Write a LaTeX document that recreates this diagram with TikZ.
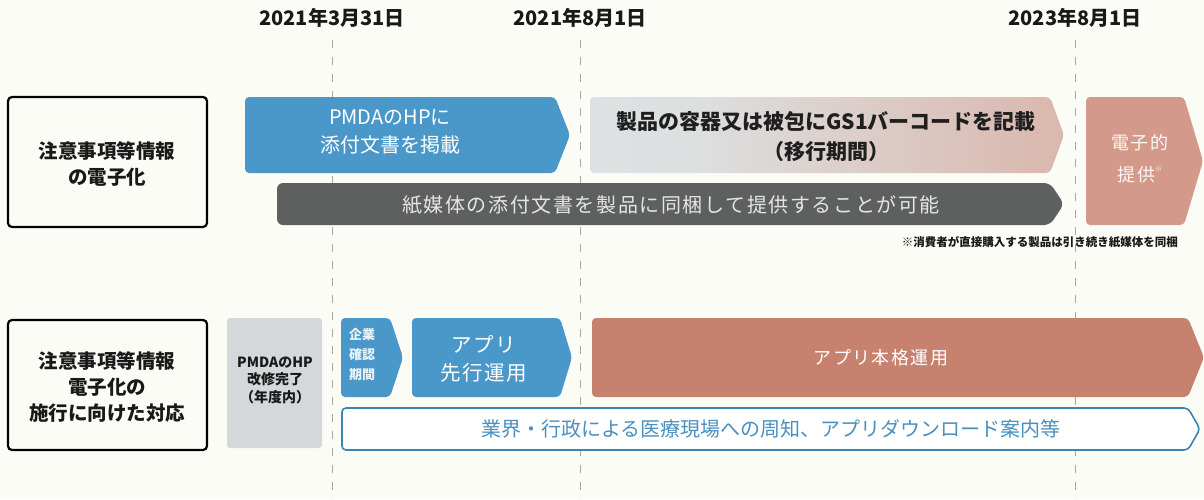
\documentclass[tikz,border=0pt]{standalone}
\usepackage{fontspec}
\newfontfamily\jp{Noto Sans CJK JP}
\newfontfamily\jpsp{Noto Sans CJK JP}[LetterSpace=8]
\usetikzlibrary{calc}
\definecolor{bg}{HTML}{FCFCF7}
\definecolor{pblue}{HTML}{4A98C9}
\definecolor{oblue}{HTML}{3F84AE}
\definecolor{tblue}{HTML}{4A90BE}
\definecolor{dgray}{HTML}{5E605F}
\definecolor{salm}{HTML}{D39A8B}
\definecolor{brsalm}{HTML}{C7826F}
\definecolor{lgray}{HTML}{D5D8DA}
\definecolor{gleft}{HTML}{DCE3E8}
\definecolor{gmid}{HTML}{DDE0E1}
\definecolor{gright}{HTML}{D89E8C}
\definecolor{dline}{HTML}{A8A8A8}
\pgfdeclarehorizontalshading{gsgrad}{100bp}{color(0bp)=(gleft); color(35bp)=(gmid); color(100bp)=(gright)}
\tikzset{
  dashline/.style={draw=dline, line width=0.9pt, dash pattern=on 8pt off 9pt},
  labelbox/.style={draw=black, line width=2.2pt, rounded corners=4pt},
  chev/.style={rounded corners=4pt},
  hdr/.style={font={\jp\bfseries\fontsize{20}{24}\selectfont}, text=black!90, inner sep=0pt},
  lbl/.style={font={\jp\bfseries\fontsize{19.5}{26}\selectfont}, align=center, text=black!90, inner sep=0pt},
  wtext/.style={align=center, text=white, inner sep=0pt},
}
\begin{document}
\begin{tikzpicture}[x=1pt,y=-1pt]
\useasboundingbox (0,0) rectangle (1204,499);
\fill[bg] (0,0) rectangle (1204,499);

% dashed date lines
\coordinate (d1t) at (332,40); \coordinate (d1b) at (332,499);
\coordinate (d2t) at (580,40); \coordinate (d2b) at (580,499);
\coordinate (d3t) at (1075,40); \coordinate (d3b) at (1075,499);
\draw[dashline] (d1t) -- (d1b);
\draw[dashline] (d2t) -- (d2b);
\draw[dashline] (d3t) -- (d3b);

% headers
\node[hdr] (h1) at (332,18) {2021年3月31日};
\node[hdr] (h2) at (580,18) {2021年8月1日};
\node[hdr] (h3) at (1075,18) {2023年8月1日};

% left label boxes
\draw[labelbox] (8,97) rectangle (207,227);
\node[lbl] (l1) at (107,164) {注意事項等情報\\の電子化};
\draw[labelbox] (8,320) rectangle (207,450);
\node[lbl] (l2) at (107,387) {注意事項等情報\\電子化の\\施行に向けた対応};

% row 1
\fill[pblue, chev] (245,97) -- (555,97) -- (570,135) -- (555,173) -- (245,173) -- cycle;
\node[wtext, font={\jp\fontsize{20}{28}\selectfont}] (a1) at (390,132) {PMDAのHPに\\添付文書を掲載};

\shade[shading=gsgrad, chev] (590,97) -- (1050,97) -- (1064,135) -- (1050,173) -- (590,173) -- cycle;
\node[align=center, inner sep=0pt, text=black!88, font={\jp\bfseries\fontsize{21}{30}\selectfont}] (a2) at (826,137) {製品の容器又は被包にGS1バーコードを記載\\（移行期間）};

\fill[salm, chev] (1086,97) -- (1184,97) -- (1203,161) -- (1184,225) -- (1086,225) -- cycle;
\node[align=center, inner sep=0pt, text=white!92!salm, font={\jpsp\fontsize{18}{32}\selectfont}] (a3) at (1140,159) {電子的\\提供\raisebox{0.55em}{\fontsize{7}{7}\selectfont ※}};

\fill[dgray, rounded corners=6pt] (277,183) -- (1050,183) -- (1064,204) -- (1050,225) -- (277,225) -- cycle;
\node[inner sep=0pt, text=white!90!black, font={\jpsp\fontsize{20}{24}\selectfont}] (bar) at (671,205) {紙媒体の添付文書を製品に同梱して提供することが可能};

\node[anchor=east, inner sep=0pt, text=black!90, font={\jp\bfseries\fontsize{11.5}{14}\selectfont}] (note) at (1178,242) {※消費者が直接購入する製品は引き続き紙媒体を同梱};

% row 2
\fill[lgray, rounded corners=3pt] (227,318) rectangle (322,448);
\node[align=center, inner sep=0pt, text=black!90, font={\jp\bfseries\fontsize{14}{17.5}\selectfont}] (pm) at (275,380) {PMDAのHP\\改修完了\\（年度内）};

\fill[pblue, chev] (341,318) -- (390,318) -- (403,357.5) -- (390,397) -- (341,397) -- cycle;
\node[wtext, text=white!88!pblue, font={\jp\bfseries\fontsize{13}{20}\selectfont}] (b1) at (362,355) {企業\\確認\\期間};

\fill[pblue, chev] (412,318) -- (560,318) -- (572,357.5) -- (560,397) -- (412,397) -- cycle;
\node[wtext, font={\jpsp\fontsize{20.5}{28}\selectfont}] (b2) at (484,359) {アプリ\\先行運用};

\fill[brsalm, chev] (592,318) -- (1188,318) -- (1204,357.5) -- (1188,397) -- (592,397) -- cycle;
\node[wtext, font={\jpsp\fontsize{18}{24}\selectfont}] (b3) at (881,358) {アプリ本格運用};

\draw[oblue, line width=1.6pt, fill=white, chev] (342,408) -- (1188,408) -- (1200,429) -- (1188,450) -- (342,450) -- cycle;
\node[inner sep=0pt, text=tblue, font={\jp\fontsize{20}{24}\selectfont}] (b4) at (771,429) {業界・行政による医療現場への周知、アプリダウンロード案内等};
\end{tikzpicture}
\end{document}
